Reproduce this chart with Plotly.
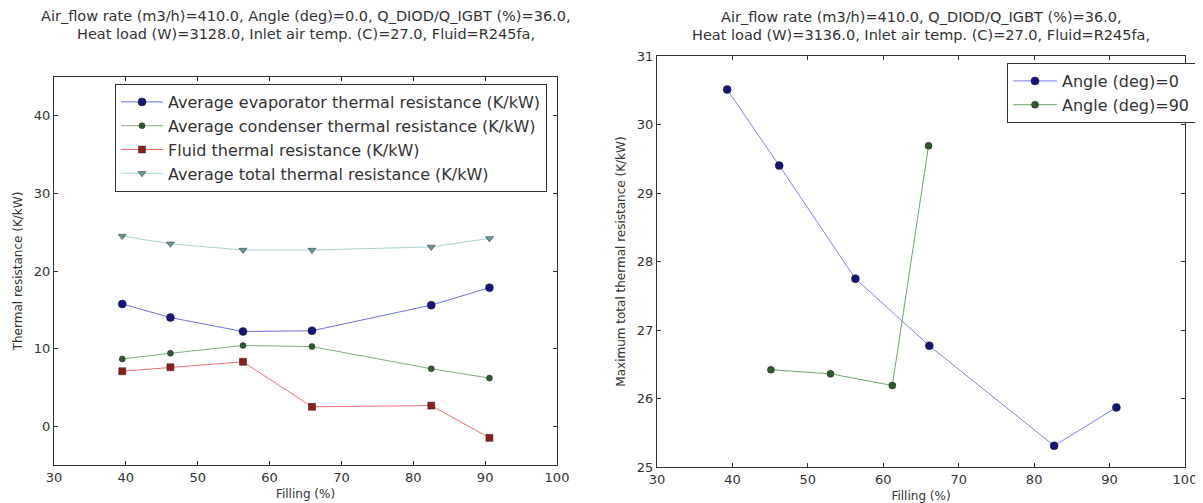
import plotly.graph_objects as go

# ---- data: left panel ----
filling_left = [39.5, 46.2, 56.3, 65.9, 82.5, 90.6]
evap_res = [15.75, 14.0, 12.2, 12.3, 15.6, 17.85]
cond_res = [8.67, 9.4, 10.4, 10.26, 7.4, 6.2]
fluid_res = [7.08, 7.6, 8.3, 2.5, 2.66, -1.5]
total_res = [24.5, 23.5, 22.7, 22.7, 23.1, 24.2]

# ---- data: right panel ----
filling_a0 = [39.3, 46.2, 56.3, 66.1, 82.65, 90.9]
max_total_a0 = [30.51, 29.40, 27.75, 26.77, 25.31, 25.87]
filling_a90 = [45.1, 53.0, 61.2, 66.0]
max_total_a90 = [26.42, 26.36, 26.19, 29.69]

left_title_lines = ["Air_flow rate (m3/h)=410.0, Angle (deg)=0.0, Q_DIOD/Q_IGBT (%)=36.0,",
                    "Heat load (W)=3128.0, Inlet air temp. (C)=27.0, Fluid=R245fa,"]
right_title_lines = ["Air_flow rate (m3/h)=410.0, Q_DIOD/Q_IGBT (%)=36.0,",
                     "Heat load (W)=3136.0, Inlet air temp. (C)=27.0, Fluid=R245fa,"]

# page body has an 8px margin: figure is drawn 8px right/down of window origin
OFF = 8
W, H = 1203 - OFF, 503 - OFF
FONT = "DejaVu Sans"
TXT = "#333333"


def px(x):
    return (x - OFF) / W


def py(y):
    return 1 - (y - OFF) / H


fig = go.Figure()


def add(x, y, name, lc, mc, sym, size, xa, ya, legend):
    fig.add_trace(go.Scatter(
        x=x, y=y, name=name, mode="lines+markers",
        line=dict(color=lc, width=1),
        marker=dict(color=mc, symbol=sym, size=size, line=dict(color="#222222", width=0.5)),
        xaxis=xa, yaxis=ya, legend=legend))


add(filling_left, evap_res, "Average evaporator thermal resistance (K/kW)",
    "#6f6ff0", "#16167a", "circle", 8, "x", "y", "legend")
add(filling_left, cond_res, "Average condenser thermal resistance (K/kW)",
    "#7fae7f", "#2f5a2f", "circle", 6, "x", "y", "legend")
add(filling_left, fluid_res, "Fluid thermal resistance (K/kW)",
    "#f07070", "#901c1c", "square", 7, "x", "y", "legend")
add(filling_left, total_res, "Average total thermal resistance (K/kW)",
    "#a8d4d4", "#6a9898", "triangle-down", 7, "x", "y", "legend")

add(filling_a0, max_total_a0, "Angle (deg)=0",
    "#7f7ff0", "#16167a", "circle", 8, "x2", "y2", "legend2")
add(filling_a90, max_total_a90, "Angle (deg)=90",
    "#6aa86a", "#2f5a2f", "circle", 7, "x2", "y2", "legend2")

axis_common = dict(showline=True, linecolor=TXT, linewidth=1, mirror="ticks",
                   ticks="inside", ticklen=4, tickcolor=TXT, showgrid=False,
                   zeroline=False, automargin=False,
                   tickfont=dict(family=FONT, size=13, color=TXT))

L0, L1 = px(54), px(557)
R0, R1 = px(657), px(1185)
LB, LT = py(465), py(77)
RB, RT = py(467), py(56)

axis_title_font = dict(family=FONT, size=12, color=TXT)

fig.update_layout(
    width=W, height=H,
    margin=dict(l=0, r=0, t=0, b=0),
    paper_bgcolor="white", plot_bgcolor="white",
    font=dict(family=FONT, color=TXT),
    xaxis=dict(domain=[L0, L1], range=[30, 100], dtick=10, anchor="y",
               title=dict(text="Filling (%)", font=axis_title_font, standoff=6), **axis_common),
    yaxis=dict(domain=[LB, LT], range=[-5, 45], tickvals=[0, 10, 20, 30, 40], anchor="x",
               title=dict(text="Thermal resistance (K/kW)", font=axis_title_font, standoff=8), **axis_common),
    xaxis2=dict(domain=[R0, R1], range=[30, 100], dtick=10, anchor="y2",
                title=dict(text="Filling (%)", font=axis_title_font, standoff=6), **axis_common),
    yaxis2=dict(domain=[RB, RT], range=[25, 31], dtick=1, anchor="x2",
                title=dict(text="Maximum total thermal resistance (K/kW)", font=axis_title_font, standoff=8),
                **axis_common),
    legend=dict(x=px(115), y=py(84), xanchor="left", yanchor="top",
                bordercolor=TXT, borderwidth=1, bgcolor="white", itemwidth=42,
                font=dict(family=FONT, size=16, color=TXT), tracegroupgap=0),
    legend2=dict(x=px(1007), y=py(63), xanchor="left", yanchor="top",
                 bordercolor=TXT, borderwidth=1, bgcolor="white", itemwidth=44,
                 font=dict(family=FONT, size=16, color=TXT)),
)

annots = []
for line, yc in zip(left_title_lines, [16, 34]):
    annots.append(dict(text=line, x=(L0 + L1) / 2, y=py(yc), xref="paper", yref="paper",
                       xanchor="center", yanchor="middle", showarrow=False,
                       font=dict(family=FONT, size=14.5, color=TXT)))
for line, yc in zip(right_title_lines, [17, 35]):
    annots.append(dict(text=line, x=(R0 + R1) / 2, y=py(yc), xref="paper", yref="paper",
                       xanchor="center", yanchor="middle", showarrow=False,
                       font=dict(family=FONT, size=14.5, color=TXT)))
fig.update_layout(annotations=annots)

fig.write_html("out.html")
